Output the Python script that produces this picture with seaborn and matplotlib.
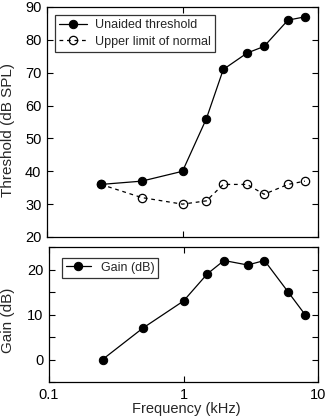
import matplotlib
matplotlib.use('Agg')
import matplotlib.pyplot as plt
import numpy as np
import pandas as pd
import seaborn as sns
from matplotlib.ticker import FixedLocator, NullLocator, FixedFormatter

sns.set_style('ticks')
plt.rcParams['font.family'] = ['Liberation Sans', 'DejaVu Sans']

# values
freq_khz = [0.25, 0.5, 1, 1.5, 2, 3, 4, 6, 8]
unaided = [36, 37, 40, 56, 71, 76, 78, 86, 87]
normal_limit = [36, 32, 30, 31, 36, 36, 33, 36, 37]
gain_db = [0, 7, 13, 19, 22, 21, 22, 15, 10]

top_yticks = [20, 30, 40, 50, 60, 70, 80, 90]
gain_yticks = [0, 10, 20]
gain_minor = [-5, 5, 15, 25]
xticks = [0.1, 1, 10]
xticklabels = ['0.1', '1', '10']

df = pd.DataFrame({'freq': freq_khz, 'unaided': unaided,
                   'normal': normal_limit, 'gain': gain_db})

W, H = 327, 420
fig = plt.figure(figsize=(W / 100, H / 100), dpi=100)
ax1 = fig.add_axes([47 / W, 1 - 237 / H, 271 / W, 230 / H])
ax2 = fig.add_axes([49 / W, 1 - 382 / H, 269 / W, 135 / H])

sns.lineplot(data=df, x='freq', y='unaided', ax=ax1, color='black', lw=0.9,
             marker='o', markersize=6, markeredgecolor='black',
             label='Unaided threshold')
sns.lineplot(data=df, x='freq', y='normal', ax=ax1, color='black', lw=0.9,
             linestyle=(0, (3, 3)), marker='o', markersize=6,
             markerfacecolor='none', markeredgecolor='black', markeredgewidth=0.9,
             label='Upper limit of normal')
sns.lineplot(data=df, x='freq', y='gain', ax=ax2, color='black', lw=0.9,
             marker='o', markersize=6, markeredgecolor='black',
             label='Gain (dB)')

for ax in (ax1, ax2):
    ax.set_xscale('log')
    ax.set_xlim(0.1, 10)
    ax.xaxis.set_major_locator(FixedLocator(xticks))
    ax.xaxis.set_minor_locator(NullLocator())
    ax.tick_params(which='both', direction='in', top=True, right=True,
                   length=4, width=0.8, labelsize=10.5, colors='black', pad=4)
    for s in ax.spines.values():
        s.set_linewidth(0.9)
        s.set_color('black')

ax1.set_ylim(20, 90)
ax1.set_yticks(top_yticks)
ax1.set_xticklabels([])
ax1.set_xlabel('')
ax1.set_ylabel('Threshold (dB SPL)', fontsize=11)
ax1.yaxis.set_label_coords(15 / W, 1 - 130 / H, transform=fig.transFigure)

ax2.set_ylim(-5, 25)
ax2.set_yticks(gain_yticks)
ax2.yaxis.set_minor_locator(FixedLocator(gain_minor))
ax2.xaxis.set_major_formatter(FixedFormatter(xticklabels))
ax2.set_xlabel('Frequency (kHz)', fontsize=10.5)
ax2.xaxis.set_label_coords(186 / W, 1 - 402 / H, transform=fig.transFigure)
ax2.set_ylabel('Gain (dB)', fontsize=11)
ax2.yaxis.set_label_coords(15 / W, 1 - 320 / H, transform=fig.transFigure)

leg1 = ax1.legend(loc='upper left', bbox_to_anchor=(55 / W, 1 - 15 / H),
                  bbox_transform=fig.transFigure, fontsize=9,
                  frameon=True, fancybox=False, edgecolor='black',
                  borderpad=0.35, handlelength=2.2, handletextpad=0.65,
                  labelspacing=0.35, borderaxespad=0)
leg1.get_frame().set_linewidth(0.9)
leg2 = ax2.legend(loc='upper left', bbox_to_anchor=(62 / W, 1 - 258 / H),
                  bbox_transform=fig.transFigure, fontsize=9,
                  frameon=True, fancybox=False, edgecolor='black',
                  borderpad=0.3, handlelength=2.0, handletextpad=0.8,
                  borderaxespad=0)
leg2.get_frame().set_linewidth(0.9)

fig.savefig('out.png', dpi=100)
